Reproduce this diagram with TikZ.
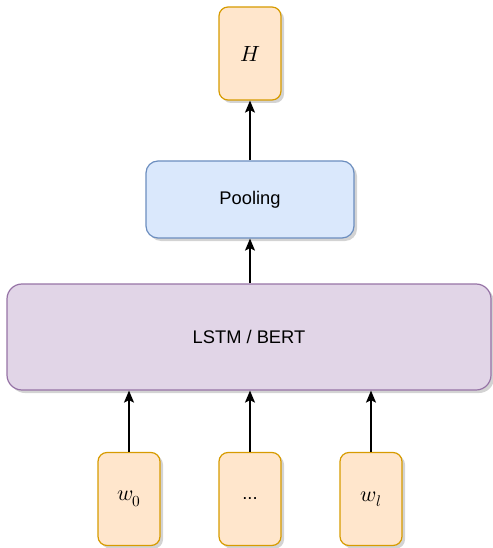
\documentclass[tikz,border=0pt]{standalone}
\usepackage{fontspec}
\setmainfont{Liberation Sans}
\usepackage{unicode-math}
\setmathfont{Latin Modern Math}
\usetikzlibrary{shadows,arrows.meta}
\definecolor{orfill}{HTML}{FFE6CC}
\definecolor{ordraw}{HTML}{D79B00}
\definecolor{blfill}{HTML}{DAE8FC}
\definecolor{bldraw}{HTML}{6C8EBF}
\definecolor{pufill}{HTML}{E1D5E7}
\definecolor{pudraw}{HTML}{9673A6}
\tikzset{
  shd/.style={drop shadow={shadow xshift=3pt,shadow yshift=-3pt,opacity=0.35,fill=gray}},
  tokbox/.style={shd,draw=ordraw,fill=orfill,line width=1.2pt,rounded corners=9pt,minimum width=62pt,minimum height=93pt,inner sep=0pt,font=\fontsize{22}{26}\selectfont},
  poolbox/.style={shd,draw=bldraw,fill=blfill,line width=1.2pt,rounded corners=12pt,minimum width=208pt,minimum height=77pt,inner sep=0pt,font=\fontsize{18.3}{22}\selectfont},
  encbox/.style={shd,draw=pudraw,fill=pufill,line width=1.2pt,rounded corners=15pt,minimum width=484pt,minimum height=106pt,inner sep=0pt,font=\fontsize{18.3}{22}\selectfont},
  conn/.style={-{Stealth[length=12pt,width=10pt,inset=2.5pt]},line width=1.3pt,black}
}
\begin{document}
\begin{tikzpicture}[x=1pt,y=-1pt]
\useasboundingbox (0,0) rectangle (492,548);
\node[tokbox] (H) at (250,53.5) {$H$};
\node[poolbox] (pool) at (250,199.5) {Pooling};
\node[encbox] (enc) at (249,337) {LSTM / BERT};
\node[tokbox] (w0) at (129,499) {$w_0$};
\node[tokbox,font=\fontsize{18.3}{22}\selectfont] (wd) at (250,499) {...};
\node[tokbox] (wl) at (371,499) {$w_l$};
\draw[conn] (w0.north) -- (w0.north |- enc.south);
\draw[conn] (wd.north) -- (wd.north |- enc.south);
\draw[conn] (wl.north) -- (wl.north |- enc.south);
\draw[conn] (enc.north -| pool.south) -- (pool.south);
\draw[conn] (pool.north) -- (H.south);
\end{tikzpicture}
\end{document}
